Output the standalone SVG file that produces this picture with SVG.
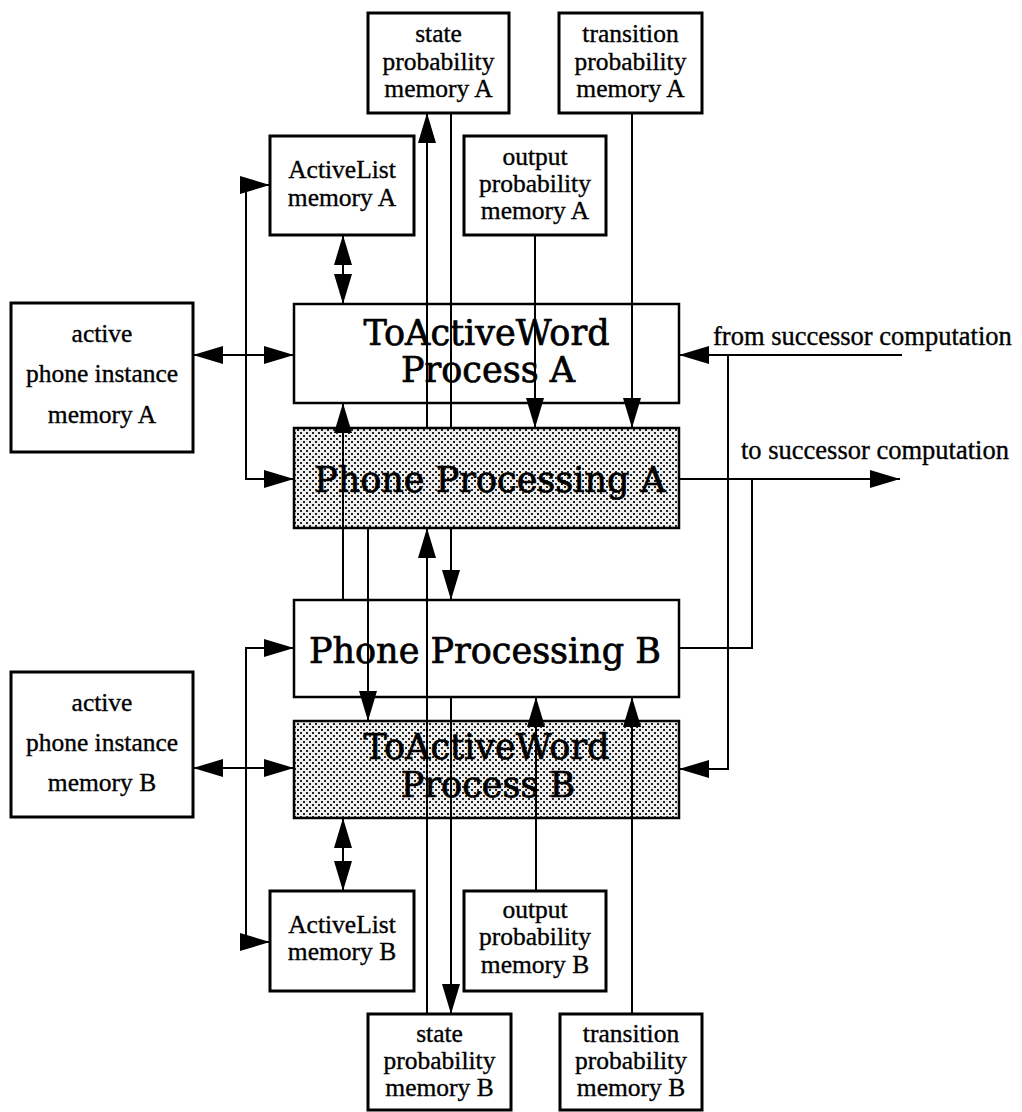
<svg xmlns="http://www.w3.org/2000/svg" width="1022" height="1112" viewBox="0 0 1022 1112">
  <defs>
    <!-- halftone dot screen used for the shaded process blocks -->
    <pattern id="screen" width="6" height="6" patternUnits="userSpaceOnUse">
      <rect width="6" height="6" fill="#eeeeee"/>
      <rect x="0" y="0" width="2" height="2" fill="#222"/>
      <rect x="3" y="3" width="2" height="2" fill="#222"/>
    </pattern>
    <marker id="arrow" markerUnits="userSpaceOnUse" markerWidth="30" markerHeight="18" viewBox="0 0 30 18" refX="30" refY="9" orient="auto-start-reverse">
      <path d="M0,0 L30,9 L0,18 z" fill="#000"/>
    </marker>
    <style>
      .mem { fill: #fff; stroke: #000; stroke-width: 3; }
      .proc { fill: #fff; stroke: #000; stroke-width: 2.5; }
      .shade { fill: url(#screen); stroke: #000; stroke-width: 2.5; }
      .lbl { font-family: "Liberation Serif", "Times New Roman", serif; font-size: 25.5px; text-anchor: middle; fill: #000; stroke: #000; stroke-width: 0.35; }
      .big { font-family: "DejaVu Serif", "Liberation Serif", serif; font-size: 35px; text-anchor: middle; fill: #000; stroke: #000; stroke-width: 0.7; }
      .side { font-family: "Liberation Serif", "Times New Roman", serif; font-size: 26.5px; fill: #000; stroke: #000; stroke-width: 0.35; }
      .wire { fill: none; stroke: #000; stroke-width: 2; }
    </style>
  </defs>

  <!-- memories feeding process A -->
  <g id="state-prob-A">
    <rect class="mem" x="368" y="13" width="141" height="100"/>
    <text class="lbl" x="438.5" y="42">state</text>
    <text class="lbl" x="438.5" y="70">probability</text>
    <text class="lbl" x="438.5" y="97">memory A</text>
  </g>
  <g id="transition-prob-A">
    <rect class="mem" x="559" y="13" width="143" height="100"/>
    <text class="lbl" x="630.5" y="42">transition</text>
    <text class="lbl" x="630.5" y="70">probability</text>
    <text class="lbl" x="630.5" y="97">memory A</text>
  </g>
  <g id="activelist-A">
    <rect class="mem" x="270" y="136" width="144" height="99"/>
    <text class="lbl" x="342" y="178">ActiveList</text>
    <text class="lbl" x="342" y="206">memory A</text>
  </g>
  <g id="output-prob-A">
    <rect class="mem" x="464" y="136" width="142" height="99"/>
    <text class="lbl" x="535" y="165">output</text>
    <text class="lbl" x="535" y="192">probability</text>
    <text class="lbl" x="535" y="219">memory A</text>
  </g>
  <g id="phone-instance-A">
    <rect class="mem" x="11" y="303" width="182" height="149"/>
    <text class="lbl" x="102" y="342">active</text>
    <text class="lbl" x="102" y="382">phone instance</text>
    <text class="lbl" x="102" y="423">memory A</text>
  </g>

  <!-- process blocks -->
  <g id="toactiveword-A">
    <rect class="proc" x="294" y="304" width="385" height="99"/>
    <text class="big" x="486.5" y="345">ToActiveWord</text>
    <text class="big" x="488" y="382">Process A</text>
  </g>
  <g id="phone-processing-A">
    <rect class="shade" x="294" y="428" width="385" height="100"/>
    <text class="big" x="490" y="492">Phone Processing A</text>
  </g>
  <g id="phone-processing-B">
    <rect class="proc" x="294" y="600" width="385" height="97"/>
    <text class="big" x="485" y="663">Phone Processing B</text>
  </g>
  <g id="toactiveword-B">
    <rect class="shade" x="294" y="721" width="385" height="97"/>
    <text class="big" x="486.5" y="759">ToActiveWord</text>
    <text class="big" x="488" y="797">Process B</text>
  </g>

  <!-- memories feeding process B -->
  <g id="phone-instance-B">
    <rect class="mem" x="11" y="672" width="182" height="145"/>
    <text class="lbl" x="102" y="711">active</text>
    <text class="lbl" x="102" y="751">phone instance</text>
    <text class="lbl" x="102" y="791">memory B</text>
  </g>
  <g id="activelist-B">
    <rect class="mem" x="270" y="891" width="144" height="100"/>
    <text class="lbl" x="342" y="933">ActiveList</text>
    <text class="lbl" x="342" y="960">memory B</text>
  </g>
  <g id="output-prob-B">
    <rect class="mem" x="464" y="891" width="142" height="100"/>
    <text class="lbl" x="535" y="918">output</text>
    <text class="lbl" x="535" y="945">probability</text>
    <text class="lbl" x="535" y="973">memory B</text>
  </g>
  <g id="state-prob-B">
    <rect class="mem" x="368" y="1014" width="143" height="96"/>
    <text class="lbl" x="439.5" y="1042">state</text>
    <text class="lbl" x="439.5" y="1069">probability</text>
    <text class="lbl" x="439.5" y="1096">memory B</text>
  </g>
  <g id="transition-prob-B">
    <rect class="mem" x="560" y="1014" width="142" height="96"/>
    <text class="lbl" x="631" y="1042">transition</text>
    <text class="lbl" x="631" y="1069">probability</text>
    <text class="lbl" x="631" y="1096">memory B</text>
  </g>

  <!-- external labels -->
  <text class="side" x="713" y="345">from successor computation</text>
  <text class="side" x="741" y="459">to successor computation</text>

  <g id="connectors">
    <!-- side A -->
    <path class="wire" d="M193,355 H294" marker-start="url(#arrow)" marker-end="url(#arrow)"/>
    <path class="wire" d="M270,185 H246 V479 H294" marker-start="url(#arrow)" marker-end="url(#arrow)"/>
    <path class="wire" d="M343,235 V304" marker-start="url(#arrow)" marker-end="url(#arrow)"/>
    <path class="wire" d="M427,428 V113" marker-end="url(#arrow)"/>
    <path class="wire" d="M451,113 V428"/>
    <path class="wire" d="M535,235 V428" marker-end="url(#arrow)"/>
    <path class="wire" d="M632,113 V428" marker-end="url(#arrow)"/>

    <!-- successor computation links -->
    <path class="wire" d="M902,355 H679" marker-end="url(#arrow)"/>
    <path class="wire" d="M728,355 V769 H679" marker-end="url(#arrow)"/>
    <path class="wire" d="M679,479 H900" marker-end="url(#arrow)"/>
    <path class="wire" d="M679,648 H752 V479"/>

    <!-- cross links between A and B -->
    <path class="wire" d="M343,600 V403" marker-end="url(#arrow)"/>
    <path class="wire" d="M368,528 V721" marker-end="url(#arrow)"/>
    <path class="wire" d="M427,1014 V528" marker-end="url(#arrow)"/>
    <path class="wire" d="M451,528 V600" marker-end="url(#arrow)"/>
    <path class="wire" d="M451,697 V1014" marker-end="url(#arrow)"/>

    <!-- side B -->
    <path class="wire" d="M536,891 V697" marker-end="url(#arrow)"/>
    <path class="wire" d="M632,1014 V697" marker-end="url(#arrow)"/>
    <path class="wire" d="M294,648 H246 V942 H270" marker-start="url(#arrow)" marker-end="url(#arrow)"/>
    <path class="wire" d="M193,768 H294" marker-start="url(#arrow)" marker-end="url(#arrow)"/>
    <path class="wire" d="M343,818 V891" marker-start="url(#arrow)" marker-end="url(#arrow)"/>
  </g>
</svg>
